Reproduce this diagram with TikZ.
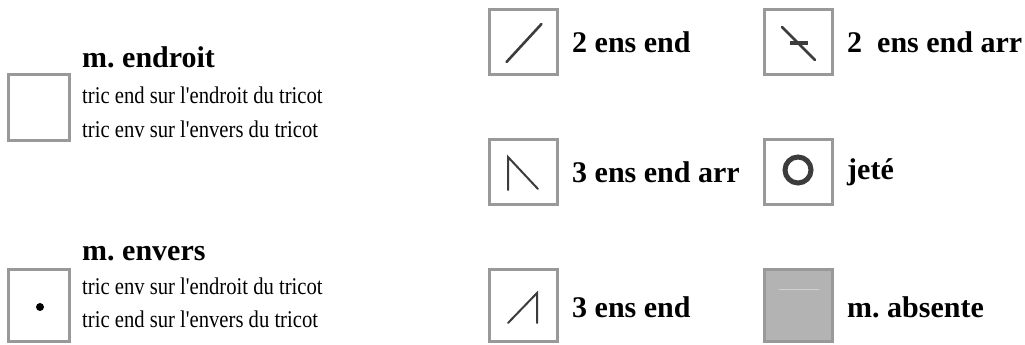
\documentclass[tikz,border=0pt]{standalone}
\usepackage{fontspec}
\setmainfont{Liberation Serif}
\newfontfamily\descfont[FakeStretch=0.86]{Liberation Serif}
\usepackage{tikz}
\usetikzlibrary{positioning}
\frenchspacing

\definecolor{framegray}{HTML}{999999}
\definecolor{inkgray}{HTML}{3C3C3C}
\definecolor{absgray}{HTML}{B3B3B3}
\definecolor{absline}{HTML}{D2D2D2}

\begin{document}
\begin{tikzpicture}[
  x=1pt, y=-1pt,
  node distance=0pt and 12pt,
  font=\descfont\fontsize{24}{34}\selectfont,
  cell/.style={rectangle, draw=framegray, line width=3pt, inner sep=0pt, minimum width=68pt, minimum height=65pt},
  narrow/.style={minimum width=61pt},
  tall/.style={minimum height=72pt},
  lbl/.style={font=\rmfamily\fontsize{30}{34}\selectfont\bfseries, inner sep=0pt},
  desc/.style={align=left, inner sep=0pt, anchor=base west},
  ink/.style={draw=inkgray, line width=2.6pt, line cap=round},
  thin ink/.style={draw=inkgray, line width=2pt, line cap=round}
]
\useasboundingbox (0,0) rectangle (1025,345);

% tricot cells, left column
\node[cell, narrow, minimum height=66pt] (endr) at (39,107.5) {};
\node[cell, narrow, tall] (envr) at (39,305.5) {};
\node[lbl, anchor=base west] (endrT) at (82,67) {m. endroit};
\node[desc] (endrD) at (82,137) {tric end sur l'endroit du tricot\\ tric env sur l'envers du tricot};
\node[lbl, anchor=base west] (envrT) at (82,260) {m. envers};
\node[desc, font=\descfont\fontsize{24}{33}\selectfont] (envrD) at (82,327) {tric env sur l'endroit du tricot\\ tric end sur l'envers du tricot};
\fill[black] ([shift={(1,1.5)}]envr.center) circle (4pt);

% decreases and yarn over
\node[cell] (dec2) at (523.5,42) {};
\node[cell] (dec3b) at (523.5,172) {};
\node[cell, tall] (dec3) at (523.5,305.5) {};
\node[cell] (dec2b) at (798.5,42) {};
\node[cell] (yo) at (798.5,172) {};
\node[cell, tall, fill=absgray] (nost) at (798.5,305.5) {};

\node[lbl, right=13pt of dec2] (dec2T) {2 ens end};
\node[lbl, right=13pt of dec3b] (dec3bT) {3 ens end arr};
\node[lbl, right=13pt of dec3, yshift=-2pt] (dec3T) {3 ens end};
\node[lbl, right=13pt of dec2b] (dec2bT) {2\ \ ens end arr};
\node[lbl, right=13pt of yo] (yoT) {jet\'e};
\node[lbl, right=13pt of nost, yshift=-2pt] (nostT) {m. absente};

% symbols
\draw[ink] ([shift={(-17,20)}]dec2.center) -- ([shift={(18,-18)}]dec2.center);
\draw[ink] ([shift={(-16.5,-15)}]dec2b.center) -- ([shift={(16.5,18)}]dec2b.center);
\draw[inkgray, line width=4pt] ([shift={(-8.5,1)}]dec2b.center) -- ([shift={(9.5,1)}]dec2b.center);
\draw[thin ink] ([shift={(-15.5,18)}]dec3b.center) -- ([shift={(-15.5,-15)}]dec3b.center) -- ([shift={(14.5,17)}]dec3b.center);
\draw[thin ink] ([shift={(-15.5,17.5)}]dec3.center) -- ([shift={(13.5,-12.5)}]dec3.center) -- ([shift={(13.5,17.5)}]dec3.center);
\draw[inkgray, line width=5pt] ([shift={(-0.5,-2)}]yo.center) circle (13pt);
\draw[absline, line width=1pt] ([shift={(-19.5,-16.5)}]nost.center) -- ([shift={(20.5,-16.5)}]nost.center);
\end{tikzpicture}
\end{document}
